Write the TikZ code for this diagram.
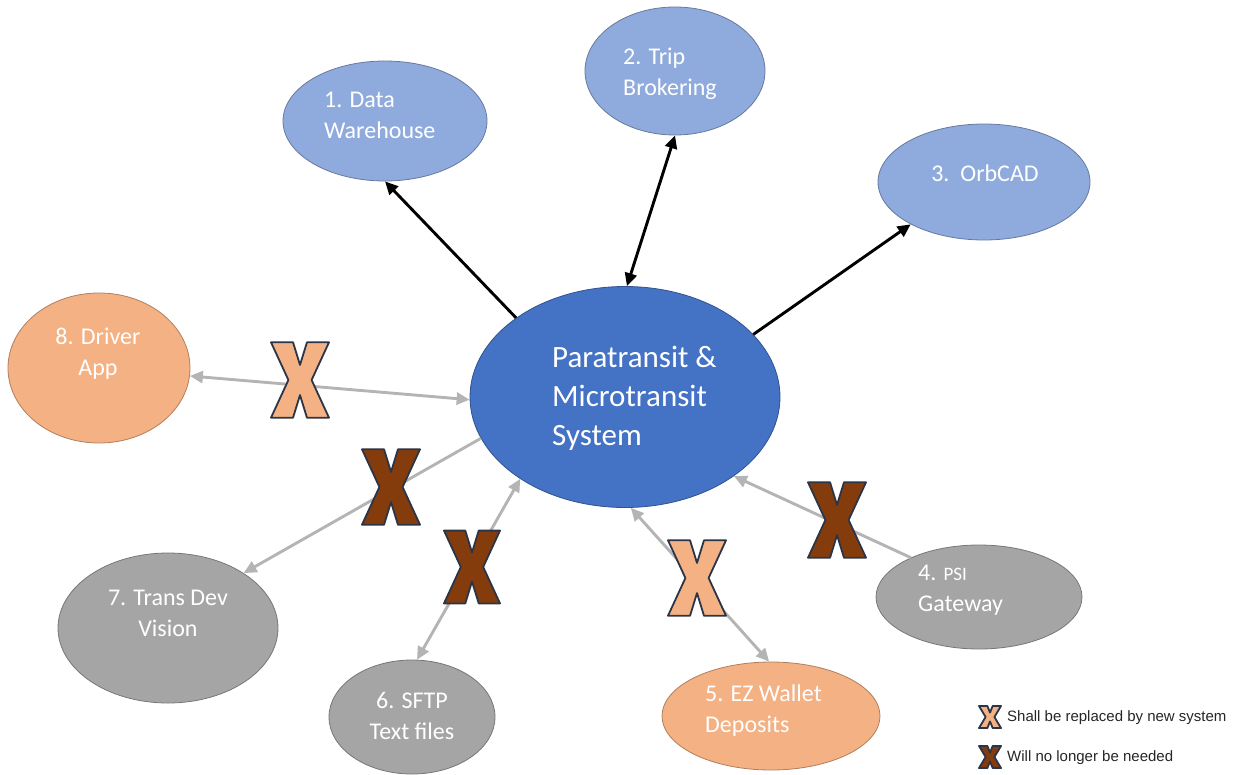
\documentclass[tikz,border=0pt]{standalone}
\usepackage{fontspec}
\setmainfont{Carlito}
\newfontfamily\legfont{Liberation Sans}
\usetikzlibrary{arrows.meta,shapes.geometric}
\definecolor{hubblue}{HTML}{4472C4}
\definecolor{extblue}{HTML}{8FAADC}
\definecolor{newpeach}{HTML}{F4B183}
\definecolor{oldgray}{HTML}{A5A5A5}
\definecolor{linkgray}{HTML}{B4B4B4}
\definecolor{xbrown}{HTML}{843C0C}
\definecolor{xedge}{HTML}{2B3547}

\begin{document}
\begin{tikzpicture}[x=1pt,y=-1pt,>={Triangle[length=13pt,width=12pt]},
  sys/.style={ellipse,draw=#1!72!black,fill=#1,line width=0.8pt,inner sep=0pt},
  lbl/.style={text=white,inner sep=0pt,font=\fontsize{24}{31}\selectfont},
  leg/.style={text=black!85,inner sep=0pt,anchor=west,font=\legfont\fontsize{15}{18}\selectfont},
  link/.style={line width=2.9pt},
  old/.style={link,draw=linkgray,color=linkgray},
  cross/.pic={\path[line width=1.8pt,line join=round,pic actions] (-1,-1.3) -- (-0.24,-1.3) -- (0,-0.52) -- (0.24,-1.3) -- (1,-1.3) -- (0.4,0) -- (1,1.3) -- (0.24,1.3) -- (0,0.52) -- (-0.24,1.3) -- (-1,1.3) -- (-0.4,0) -- cycle;}]
\useasboundingbox (0,0) rectangle (1236,774);

% systems
\node[sys=hubblue,minimum width=310,minimum height=221] (pm) at (625,397) {};
\node[sys=extblue,minimum width=204,minimum height=120] (dw) at (385,121) {};
\node[sys=extblue,minimum width=180,minimum height=128] (tb) at (675,71) {};
\node[sys=extblue,minimum width=212,minimum height=116] (oc) at (984,182) {};
\node[sys=newpeach,minimum width=182,minimum height=150] (da) at (99,368) {};
\node[sys=oldgray,minimum width=220,minimum height=150] (td) at (168,628) {};
\node[sys=oldgray,minimum width=166,minimum height=114] (sf) at (412,717) {};
\node[sys=newpeach,minimum width=218,minimum height=108] (ez) at (771,716) {};
\node[sys=oldgray,minimum width=206,minimum height=104] (ps) at (979,597) {};

% labels
\node[lbl,font=\fontsize{31}{39}\selectfont,align=left,anchor=west] (tpm) at (552,398) {Paratransit \&\\Microtransit\\System};
\node[lbl,align=left,anchor=west] (tdw) at (324,115) {1. Data\\Warehouse};
\node[lbl,align=left,anchor=west] (ttb) at (623,74) {2. Trip\\Brokering};
\node[lbl] (toc) at (985,173) {3.\ \ OrbCAD};
\node[lbl,align=center] (tda) at (98,354) {8. Driver\\App};
\node[lbl,align=center] (ttd) at (168,613) {7. Trans Dev\\Vision};
\node[lbl,align=center] (tsf) at (412,716) {6. SFTP\\Text files};
\node[lbl,align=left,anchor=west] (tez) at (705,711) {5. EZ Wallet\\Deposits};
\node[lbl,align=left,anchor=west] (tps) at (918,590) {4. {\fontsize{19}{31}\selectfont PSI}\\Gateway};

% interfaces
\draw[link,->] (pm.144) -- (dw.south);
\draw[link,<->] (pm.89) -- (tb.south);
\draw[link,->] (pm.26) -- (oc.210);
\draw[old,<->] (pm.181) -- (da.355);
\draw[old,->] (pm.196) -- (td.36);
\draw[old,<->] (pm.218) -- (sf.85);
\draw[old,<->] (pm.273) -- (ez.92);
\draw[old,->] (ps.150) -- (pm.324);

% replaced / dropped marks
\pic[fill=newpeach,draw=xedge,scale=29] at (300,380) {cross};
\pic[fill=xbrown,draw=xedge,scale=29] at (391,487) {cross};
\pic[fill=xbrown,draw=xedge,scale=28] at (472,567) {cross};
\pic[fill=newpeach,draw=xedge,scale=29] at (697,578) {cross};
\pic[fill=xbrown,draw=xedge,scale=29] at (837,520) {cross};

% legend
\pic[fill=newpeach,draw=xedge,line width=1.2pt,xscale=11,yscale=8.5] at (990,717) {cross};
\pic[fill=xbrown,draw=xedge,line width=1.2pt,xscale=11,yscale=8.5] at (990,757) {cross};
\node[leg] (lnew) at (1007,718) {Shall be replaced by new system};
\node[leg] (lold) at (1007,758) {Will no longer be needed};
\end{tikzpicture}
\end{document}
